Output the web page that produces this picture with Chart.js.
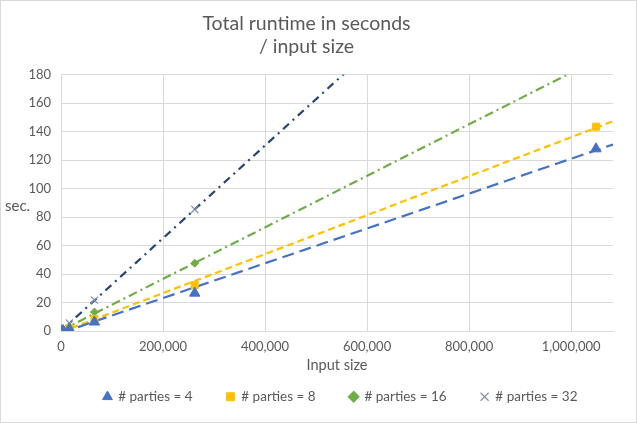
<!DOCTYPE html>
<html>
<head>
<meta charset="utf-8">
<script src="https://cdn.jsdelivr.net/npm/chart.js@4.4.1/dist/chart.umd.min.js"></script>
<style>
  html,body{margin:0;padding:0;background:#fff;}
  #wrap{width:637px;height:423px;position:relative;}
</style>
</head>
<body>
<div id="wrap"><canvas id="c" width="637" height="423"></canvas></div>
<script>
// ---- data ----
const inputSizes = [1024, 4096, 16384, 65536, 262144, 1048576];
const parties4  = [0.1, 0.4, 1.6, 6.3, 26.6, 128];
const parties8  = [0.15, 0.5, 2.1, 8.4, 32.2, 143.5];
const parties16 = [0.2, 0.8, 3.2, 13.3, 47.6];
const parties32 = [0.3, 1.3, 5.6, 21.7, 85.4];
const seriesNames = ['# parties = 4', '# parties = 8', '# parties = 16', '# parties = 32'];
const xTicks = [0, 200000, 400000, 600000, 800000, 1000000];
const xMax = 1082000;
const yTicks = [0, 20, 40, 60, 80, 100, 120, 140, 160, 180];

const colors = ['#4472C4', '#FFC000', '#70AD47', '#264478'];
const markerColors = ['#4472C4', '#FFC000', '#70AD47', '#7f8fb0'];
const pointStyles = ['triangle', 'rect', 'rectRot', 'crossRot'];
const pointRadii = [6, 5, 4, 5];
const dashes = [[12, 6], [7, 4], [9, 4, 2, 4], [8, 5, 2, 5]];

function pts(vals){ return vals.map((v,i)=>({x:inputSizes[i], y:v})); }
function trend(vals){
  const n = vals.length;
  const xs = inputSizes.slice(0,n);
  const mx = xs.reduce((a,b)=>a+b,0)/n, my = vals.reduce((a,b)=>a+b,0)/n;
  let sxy=0,sxx=0;
  for(let i=0;i<n;i++){ sxy+=(xs[i]-mx)*(vals[i]-my); sxx+=(xs[i]-mx)*(xs[i]-mx); }
  const b = sxy/sxx, a = my - b*mx;
  return [{x:0,y:a},{x:xMax,y:a+b*xMax}];
}
const allSeries = [parties4, parties8, parties16, parties32];

const datasets = [];
allSeries.forEach((s,i)=>{
  datasets.push({
    label: seriesNames[i], data: pts(s), showLine:false,
    pointStyle: pointStyles[i], pointRadius: pointRadii[i],
    backgroundColor: markerColors[i], borderColor: markerColors[i],
    borderWidth: i===3 ? 1.2 : 1, order: 1
  });
});
allSeries.forEach((s,i)=>{
  datasets.push({
    label: 'trend'+i, data: trend(s), showLine:true, pointRadius:0,
    borderColor: colors[i], borderWidth: 2.2, borderDash: dashes[i],
    fill:false, order: 2, isTrend:true
  });
});

const extra = {
  id:'extra',
  afterLayout(chart){
    const lg = chart.legend;
    if(!lg) return;
    lg.left += 34; lg.right += 34;
    lg.top = 356; lg.bottom = 422;
  },
  afterDraw(chart){
    const ctx = chart.ctx;
    ctx.save();
    ctx.fillStyle = '#595959';
    ctx.font = '15px Lato, "Open Sans", sans-serif';
    ctx.textAlign = 'left'; ctx.textBaseline = 'middle';
    ctx.fillText('sec.', 5, 206);
    ctx.strokeStyle = '#d9d9d9'; ctx.lineWidth = 1;
    ctx.strokeRect(0.5,0.5,636,422);
    ctx.restore();
  }
};

Chart.defaults.font.family = 'Lato, "Open Sans", sans-serif';
Chart.defaults.color = '#595959';

new Chart(document.getElementById('c'), {
  type: 'scatter',
  data: { datasets },
  options: {
    responsive:false, animation:false,
    layout:{ padding:{ left:0, right:24, top:0, bottom:19 } },
    plugins:{
      title:{ display:true, text:['Total runtime in seconds','/ input size'],
        font:{ size:19.5, weight:'normal' }, color:'#595959', lineHeight:1.3,
        padding:{ top:12, bottom:16 } },
      legend:{ position:'bottom', maxHeight:30,
        labels:{ usePointStyle:true, boxWidth:8, boxHeight:8, padding:34, font:{size:13.5}, color:'#595959',
          filter:(item, data)=> !data.datasets[item.datasetIndex].isTrend } },
      tooltip:{ enabled:false }
    },
    scales:{
      x:{ type:'linear', min:0, max:xMax,
        afterBuildTicks(scale){ scale.ticks = xTicks.map(v=>({value:v})); },
        afterFit(scale){ scale.height = 43; },
        ticks:{ padding:8, font:{size:13}, color:'#595959', autoSkip:false, maxRotation:0,
          callback:(v)=> Number(v).toLocaleString('en-US') },
        grid:{ color:'#d9d9d9', drawTicks:false },
        border:{ color:'#d9d9d9' },
        title:{ display:true, text:'Input size', font:{size:14.5}, color:'#595959', padding:{top:2,bottom:0} }
      },
      y:{ min:0, max:180,
        afterBuildTicks(scale){ scale.ticks = yTicks.map(v=>({value:v})); },
        afterFit(scale){ scale.width = 61; },
        ticks:{ padding:10, font:{size:13}, color:'#595959' },
        grid:{ color:'#d9d9d9', drawTicks:false },
        border:{ display:false }
      }
    }
  },
  plugins:[extra]
});
</script>
</body>
</html>
